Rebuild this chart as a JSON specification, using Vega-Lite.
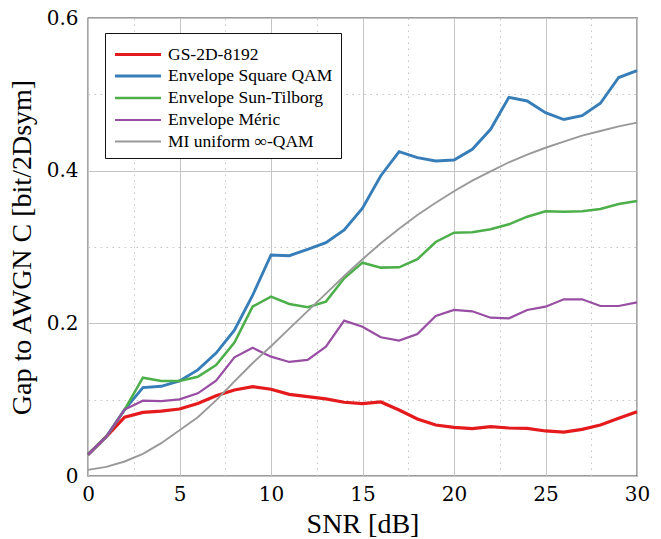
{
  "$schema": "https://vega.github.io/schema/vega-lite/v6.json",
  "width": 549,
  "height": 458,
  "autosize": {"type": "none"},
  "padding": {"left": 88, "top": 18, "right": 24, "bottom": 63},
  "background": "white",
  "config": {
    "view": {"stroke": "#3a3a3a", "strokeWidth": 1.3}
  },
  "datasets": {
    "curves": [
      {"snr":0,"gap":0.028,"series":"GS-2D-8192"},{"snr":1,"gap":0.0515,"series":"GS-2D-8192"},{"snr":2,"gap":0.077,"series":"GS-2D-8192"},{"snr":3,"gap":0.0834,"series":"GS-2D-8192"},{"snr":4,"gap":0.085,"series":"GS-2D-8192"},{"snr":5,"gap":0.0878,"series":"GS-2D-8192"},{"snr":6,"gap":0.095,"series":"GS-2D-8192"},{"snr":7,"gap":0.105,"series":"GS-2D-8192"},{"snr":8,"gap":0.1127,"series":"GS-2D-8192"},{"snr":9,"gap":0.117,"series":"GS-2D-8192"},{"snr":10,"gap":0.1136,"series":"GS-2D-8192"},{"snr":11,"gap":0.107,"series":"GS-2D-8192"},{"snr":12,"gap":0.104,"series":"GS-2D-8192"},{"snr":13,"gap":0.101,"series":"GS-2D-8192"},{"snr":14,"gap":0.0966,"series":"GS-2D-8192"},{"snr":15,"gap":0.0948,"series":"GS-2D-8192"},{"snr":16,"gap":0.097,"series":"GS-2D-8192"},{"snr":17,"gap":0.0865,"series":"GS-2D-8192"},{"snr":18,"gap":0.0747,"series":"GS-2D-8192"},{"snr":19,"gap":0.0668,"series":"GS-2D-8192"},{"snr":20,"gap":0.0638,"series":"GS-2D-8192"},{"snr":21,"gap":0.062,"series":"GS-2D-8192"},{"snr":22,"gap":0.0646,"series":"GS-2D-8192"},{"snr":23,"gap":0.0629,"series":"GS-2D-8192"},{"snr":24,"gap":0.0625,"series":"GS-2D-8192"},{"snr":25,"gap":0.059,"series":"GS-2D-8192"},{"snr":26,"gap":0.0576,"series":"GS-2D-8192"},{"snr":27,"gap":0.0611,"series":"GS-2D-8192"},{"snr":28,"gap":0.0668,"series":"GS-2D-8192"},{"snr":29,"gap":0.0755,"series":"GS-2D-8192"},{"snr":30,"gap":0.0843,"series":"GS-2D-8192"},
      {"snr":0,"gap":0.028,"series":"Envelope Square QAM"},{"snr":1,"gap":0.0515,"series":"Envelope Square QAM"},{"snr":2,"gap":0.087,"series":"Envelope Square QAM"},{"snr":3,"gap":0.1157,"series":"Envelope Square QAM"},{"snr":4,"gap":0.1175,"series":"Envelope Square QAM"},{"snr":5,"gap":0.1245,"series":"Envelope Square QAM"},{"snr":6,"gap":0.139,"series":"Envelope Square QAM"},{"snr":7,"gap":0.161,"series":"Envelope Square QAM"},{"snr":8,"gap":0.191,"series":"Envelope Square QAM"},{"snr":9,"gap":0.237,"series":"Envelope Square QAM"},{"snr":10,"gap":0.2895,"series":"Envelope Square QAM"},{"snr":11,"gap":0.2886,"series":"Envelope Square QAM"},{"snr":12,"gap":0.297,"series":"Envelope Square QAM"},{"snr":13,"gap":0.3057,"series":"Envelope Square QAM"},{"snr":14,"gap":0.3223,"series":"Envelope Square QAM"},{"snr":15,"gap":0.3507,"series":"Envelope Square QAM"},{"snr":16,"gap":0.3934,"series":"Envelope Square QAM"},{"snr":17,"gap":0.425,"series":"Envelope Square QAM"},{"snr":18,"gap":0.417,"series":"Envelope Square QAM"},{"snr":19,"gap":0.4127,"series":"Envelope Square QAM"},{"snr":20,"gap":0.414,"series":"Envelope Square QAM"},{"snr":21,"gap":0.428,"series":"Envelope Square QAM"},{"snr":22,"gap":0.4542,"series":"Envelope Square QAM"},{"snr":23,"gap":0.496,"series":"Envelope Square QAM"},{"snr":24,"gap":0.4913,"series":"Envelope Square QAM"},{"snr":25,"gap":0.476,"series":"Envelope Square QAM"},{"snr":26,"gap":0.467,"series":"Envelope Square QAM"},{"snr":27,"gap":0.472,"series":"Envelope Square QAM"},{"snr":28,"gap":0.4883,"series":"Envelope Square QAM"},{"snr":29,"gap":0.522,"series":"Envelope Square QAM"},{"snr":30,"gap":0.531,"series":"Envelope Square QAM"},
      {"snr":0,"gap":0.028,"series":"Envelope Sun-Tilborg"},{"snr":1,"gap":0.0515,"series":"Envelope Sun-Tilborg"},{"snr":2,"gap":0.087,"series":"Envelope Sun-Tilborg"},{"snr":3,"gap":0.1288,"series":"Envelope Sun-Tilborg"},{"snr":4,"gap":0.1245,"series":"Envelope Sun-Tilborg"},{"snr":5,"gap":0.1245,"series":"Envelope Sun-Tilborg"},{"snr":6,"gap":0.13,"series":"Envelope Sun-Tilborg"},{"snr":7,"gap":0.1454,"series":"Envelope Sun-Tilborg"},{"snr":8,"gap":0.1747,"series":"Envelope Sun-Tilborg"},{"snr":9,"gap":0.222,"series":"Envelope Sun-Tilborg"},{"snr":10,"gap":0.235,"series":"Envelope Sun-Tilborg"},{"snr":11,"gap":0.2253,"series":"Envelope Sun-Tilborg"},{"snr":12,"gap":0.221,"series":"Envelope Sun-Tilborg"},{"snr":13,"gap":0.2284,"series":"Envelope Sun-Tilborg"},{"snr":14,"gap":0.259,"series":"Envelope Sun-Tilborg"},{"snr":15,"gap":0.2795,"series":"Envelope Sun-Tilborg"},{"snr":16,"gap":0.273,"series":"Envelope Sun-Tilborg"},{"snr":17,"gap":0.2734,"series":"Envelope Sun-Tilborg"},{"snr":18,"gap":0.284,"series":"Envelope Sun-Tilborg"},{"snr":19,"gap":0.3066,"series":"Envelope Sun-Tilborg"},{"snr":20,"gap":0.3188,"series":"Envelope Sun-Tilborg"},{"snr":21,"gap":0.3192,"series":"Envelope Sun-Tilborg"},{"snr":22,"gap":0.3232,"series":"Envelope Sun-Tilborg"},{"snr":23,"gap":0.3297,"series":"Envelope Sun-Tilborg"},{"snr":24,"gap":0.3397,"series":"Envelope Sun-Tilborg"},{"snr":25,"gap":0.3468,"series":"Envelope Sun-Tilborg"},{"snr":26,"gap":0.3463,"series":"Envelope Sun-Tilborg"},{"snr":27,"gap":0.3468,"series":"Envelope Sun-Tilborg"},{"snr":28,"gap":0.3498,"series":"Envelope Sun-Tilborg"},{"snr":29,"gap":0.3564,"series":"Envelope Sun-Tilborg"},{"snr":30,"gap":0.3603,"series":"Envelope Sun-Tilborg"},
      {"snr":0,"gap":0.028,"series":"Envelope Méric"},{"snr":1,"gap":0.0515,"series":"Envelope Méric"},{"snr":2,"gap":0.087,"series":"Envelope Méric"},{"snr":3,"gap":0.0987,"series":"Envelope Méric"},{"snr":4,"gap":0.098,"series":"Envelope Méric"},{"snr":5,"gap":0.1005,"series":"Envelope Méric"},{"snr":6,"gap":0.1083,"series":"Envelope Méric"},{"snr":7,"gap":0.125,"series":"Envelope Méric"},{"snr":8,"gap":0.1555,"series":"Envelope Méric"},{"snr":9,"gap":0.168,"series":"Envelope Méric"},{"snr":10,"gap":0.1563,"series":"Envelope Méric"},{"snr":11,"gap":0.1494,"series":"Envelope Méric"},{"snr":12,"gap":0.152,"series":"Envelope Méric"},{"snr":13,"gap":0.1694,"series":"Envelope Méric"},{"snr":14,"gap":0.2035,"series":"Envelope Méric"},{"snr":15,"gap":0.1956,"series":"Envelope Méric"},{"snr":16,"gap":0.1817,"series":"Envelope Méric"},{"snr":17,"gap":0.1773,"series":"Envelope Méric"},{"snr":18,"gap":0.186,"series":"Envelope Méric"},{"snr":19,"gap":0.2096,"series":"Envelope Méric"},{"snr":20,"gap":0.2175,"series":"Envelope Méric"},{"snr":21,"gap":0.2158,"series":"Envelope Méric"},{"snr":22,"gap":0.2074,"series":"Envelope Méric"},{"snr":23,"gap":0.2066,"series":"Envelope Méric"},{"snr":24,"gap":0.2175,"series":"Envelope Méric"},{"snr":25,"gap":0.2218,"series":"Envelope Méric"},{"snr":26,"gap":0.2315,"series":"Envelope Méric"},{"snr":27,"gap":0.2315,"series":"Envelope Méric"},{"snr":28,"gap":0.2227,"series":"Envelope Méric"},{"snr":29,"gap":0.2227,"series":"Envelope Méric"},{"snr":30,"gap":0.2275,"series":"Envelope Méric"},
      {"snr":0,"gap":0.008,"series":"MI uniform ∞-QAM"},{"snr":1,"gap":0.012,"series":"MI uniform ∞-QAM"},{"snr":2,"gap":0.019,"series":"MI uniform ∞-QAM"},{"snr":3,"gap":0.029,"series":"MI uniform ∞-QAM"},{"snr":4,"gap":0.043,"series":"MI uniform ∞-QAM"},{"snr":5,"gap":0.06,"series":"MI uniform ∞-QAM"},{"snr":6,"gap":0.077,"series":"MI uniform ∞-QAM"},{"snr":7,"gap":0.099,"series":"MI uniform ∞-QAM"},{"snr":8,"gap":0.124,"series":"MI uniform ∞-QAM"},{"snr":9,"gap":0.148,"series":"MI uniform ∞-QAM"},{"snr":10,"gap":0.17,"series":"MI uniform ∞-QAM"},{"snr":11,"gap":0.193,"series":"MI uniform ∞-QAM"},{"snr":12,"gap":0.216,"series":"MI uniform ∞-QAM"},{"snr":13,"gap":0.239,"series":"MI uniform ∞-QAM"},{"snr":14,"gap":0.262,"series":"MI uniform ∞-QAM"},{"snr":15,"gap":0.284,"series":"MI uniform ∞-QAM"},{"snr":16,"gap":0.305,"series":"MI uniform ∞-QAM"},{"snr":17,"gap":0.324,"series":"MI uniform ∞-QAM"},{"snr":18,"gap":0.342,"series":"MI uniform ∞-QAM"},{"snr":19,"gap":0.358,"series":"MI uniform ∞-QAM"},{"snr":20,"gap":0.373,"series":"MI uniform ∞-QAM"},{"snr":21,"gap":0.387,"series":"MI uniform ∞-QAM"},{"snr":22,"gap":0.399,"series":"MI uniform ∞-QAM"},{"snr":23,"gap":0.411,"series":"MI uniform ∞-QAM"},{"snr":24,"gap":0.421,"series":"MI uniform ∞-QAM"},{"snr":25,"gap":0.43,"series":"MI uniform ∞-QAM"},{"snr":26,"gap":0.438,"series":"MI uniform ∞-QAM"},{"snr":27,"gap":0.446,"series":"MI uniform ∞-QAM"},{"snr":28,"gap":0.452,"series":"MI uniform ∞-QAM"},{"snr":29,"gap":0.458,"series":"MI uniform ∞-QAM"},{"snr":30,"gap":0.463,"series":"MI uniform ∞-QAM"}
    ]
  },
  "data": {"name": "curves"},
  "mark": {"type": "line"},
  "encoding": {
    "x": {
      "field": "snr", "type": "quantitative",
      "scale": {"domain": [0, 30], "nice": false, "zero": false},
      "axis": {
        "orient": "bottom", "title": "SNR [dB]", "domain": false, "grid": true, "ticks": false,
        "values": [0, 2.5, 5, 7.5, 10, 12.5, 15, 17.5, 20, 22.5, 25, 27.5, 30],
        "labelExpr": "datum.value % 5 === 0 ? datum.label : ''",
        "labelFont": "DejaVu Serif", "labelFontSize": 20, "labelFlush": false,
        "labelPadding": 8,
        "titleFont": "Liberation Serif", "titleFontSize": 28, "titleFontWeight": "normal",
        "titlePadding": 6,
        "gridColor": "#c4c4c4",
        "gridDash": {"condition": {"test": "datum.value % 5 !== 0", "value": [1.5, 4.5]}, "value": []},
        "gridWidth": 1
      }
    },
    "y": {
      "field": "gap", "type": "quantitative",
      "scale": {"domain": [0, 0.6], "nice": false},
      "axis": {
        "orient": "left", "title": "Gap to AWGN C [bit/2Dsym]", "domain": false, "grid": true, "ticks": false,
        "values": [0, 0.1, 0.2, 0.3, 0.4, 0.5, 0.6],
        "labelExpr": "round(datum.value*10) % 2 === 1 ? '' : (datum.value === 0 ? '0' : format(datum.value, '.1f'))",
        "labelFont": "DejaVu Serif", "labelFontSize": 20, "labelFlush": false,
        "labelPadding": 10,
        "titleFont": "Liberation Serif", "titleFontSize": 28, "titleFontWeight": "normal",
        "titlePadding": 10,
        "gridColor": "#c4c4c4",
        "gridDash": {"condition": {"test": "round(datum.value*10) % 2 === 1", "value": [1.5, 4.5]}, "value": []},
        "gridWidth": 1
      }
    },
    "color": {
      "field": "series", "type": "nominal",
      "scale": {
        "domain": ["GS-2D-8192", "Envelope Square QAM", "Envelope Sun-Tilborg", "Envelope Méric", "MI uniform ∞-QAM"],
        "range": ["#e41a1c", "#377eb8", "#4daf4a", "#984ea3", "#999999"]
      },
      "legend": {
        "title": null, "orient": "none", "legendX": 17, "legendY": 15,
        "strokeColor": "#111", "fillColor": "white", "padding": 8,
        "symbolType": "M-1,0H3", "symbolSize": 529, "symbolStrokeWidth": 2, "symbolFillColor": "transparent",
        "labelFont": "Times New Roman", "labelFontSize": 17.5, "labelColor": "black", "labelLimit": 400,
        "labelOffset": 28, "rowPadding": 0
      }
    },
    "strokeWidth": {
      "field": "series", "type": "nominal",
      "scale": {
        "domain": ["GS-2D-8192", "Envelope Square QAM", "Envelope Sun-Tilborg", "Envelope Méric", "MI uniform ∞-QAM"],
        "range": [3.2, 1.9, 1.9, 1.9, 1.9]
      },
      "legend": {
        "title": null, "orient": "none", "legendX": 17, "legendY": 15,
        "strokeColor": "#111", "fillColor": "white", "padding": 8,
        "symbolType": "M-1,0H3", "symbolSize": 529, "symbolFillColor": "transparent",
        "labelFont": "Times New Roman", "labelFontSize": 17.5, "labelColor": "black", "labelLimit": 400,
        "labelOffset": 28, "rowPadding": 0
      }
    }
  }
}
